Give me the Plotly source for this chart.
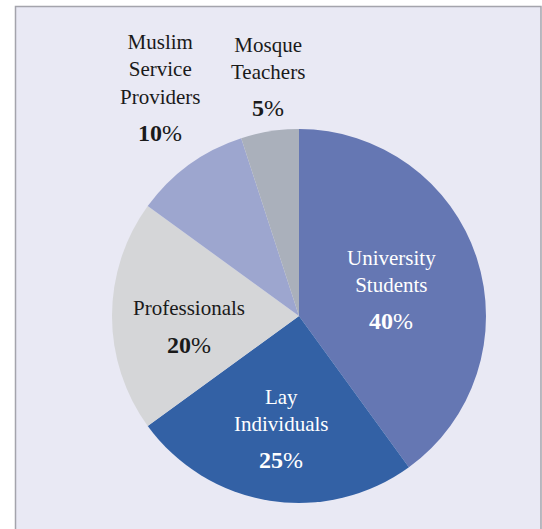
import plotly.graph_objects as go

# ---- data ----
categories = ["University Students", "Lay Individuals", "Professionals",
              "Muslim Service Providers", "Mosque Teachers"]
label_lines = [["University", "Students"], ["Lay", "Individuals"], ["Professionals"],
               ["Muslim", "Service", "Providers"], ["Mosque", "Teachers"]]
values = [40, 25, 20, 10, 5]

# ---- style ----
colors = ["#6577b3", "#3361a5", "#d5d6d8", "#9da6cf", "#aab0bb"]
text_colors = ["#ffffff", "#ffffff", "#1a1a1a", "#1a1a1a", "#1a1a1a"]
# pixel anchor (centre of the percentage text) for each label
label_px = [(391, 321), (281, 460), (189, 345), (160, 133), (268, 108)]

W, H = 542, 529
cx, cy, R = 299, 316, 187
FONT = "'Liberation Serif', 'Times New Roman', Times, serif"
name_size, pct_size, lh, gap = 21, 24, 26, 37

fig = go.Figure()
fig.add_trace(go.Pie(
    labels=categories, values=values, sort=False, direction="clockwise",
    rotation=0, marker=dict(colors=colors, line=dict(width=0)),
    textinfo="none", hoverinfo="label+percent", showlegend=False,
    domain=dict(x=[(cx - R) / W, (cx + R) / W],
                y=[(H - cy - R) / H, (H - cy + R) / H]),
))

annotations = []
for lines, v, (px, py), tc in zip(label_lines, values, label_px, text_colors):
    n = len(lines)
    last_center = py - gap
    block_center = last_center - (n - 1) * lh / 2
    annotations.append(dict(
        x=px / W, y=1 - block_center / H, xref="paper", yref="paper",
        xanchor="center", yanchor="middle", showarrow=False,
        text="<br>".join(lines), font=dict(family=FONT, size=name_size, color=tc)))
    annotations.append(dict(
        x=px / W, y=1 - py / H, xref="paper", yref="paper",
        xanchor="center", yanchor="middle", showarrow=False,
        text=f"<b>{v}</b>%", font=dict(family=FONT, size=pct_size, color=tc)))

fig.update_layout(
    width=W, height=H, margin=dict(l=0, r=0, t=0, b=0),
    paper_bgcolor="#ffffff", plot_bgcolor="#ffffff",
    font=dict(family=FONT),
    shapes=[dict(type="rect", xref="paper", yref="paper",
                 x0=15.5 / W, x1=541 / W, y0=-0.05, y1=1 - 6.5 / H,
                 fillcolor="#e9e9f4", line=dict(color="#a4a4ac", width=1.5),
                 layer="below")],
    annotations=annotations,
)

fig.write_html("out.html", config={"displayModeBar": False},
               post_script="document.body.style.margin='0';document.body.style.overflow='hidden';")
